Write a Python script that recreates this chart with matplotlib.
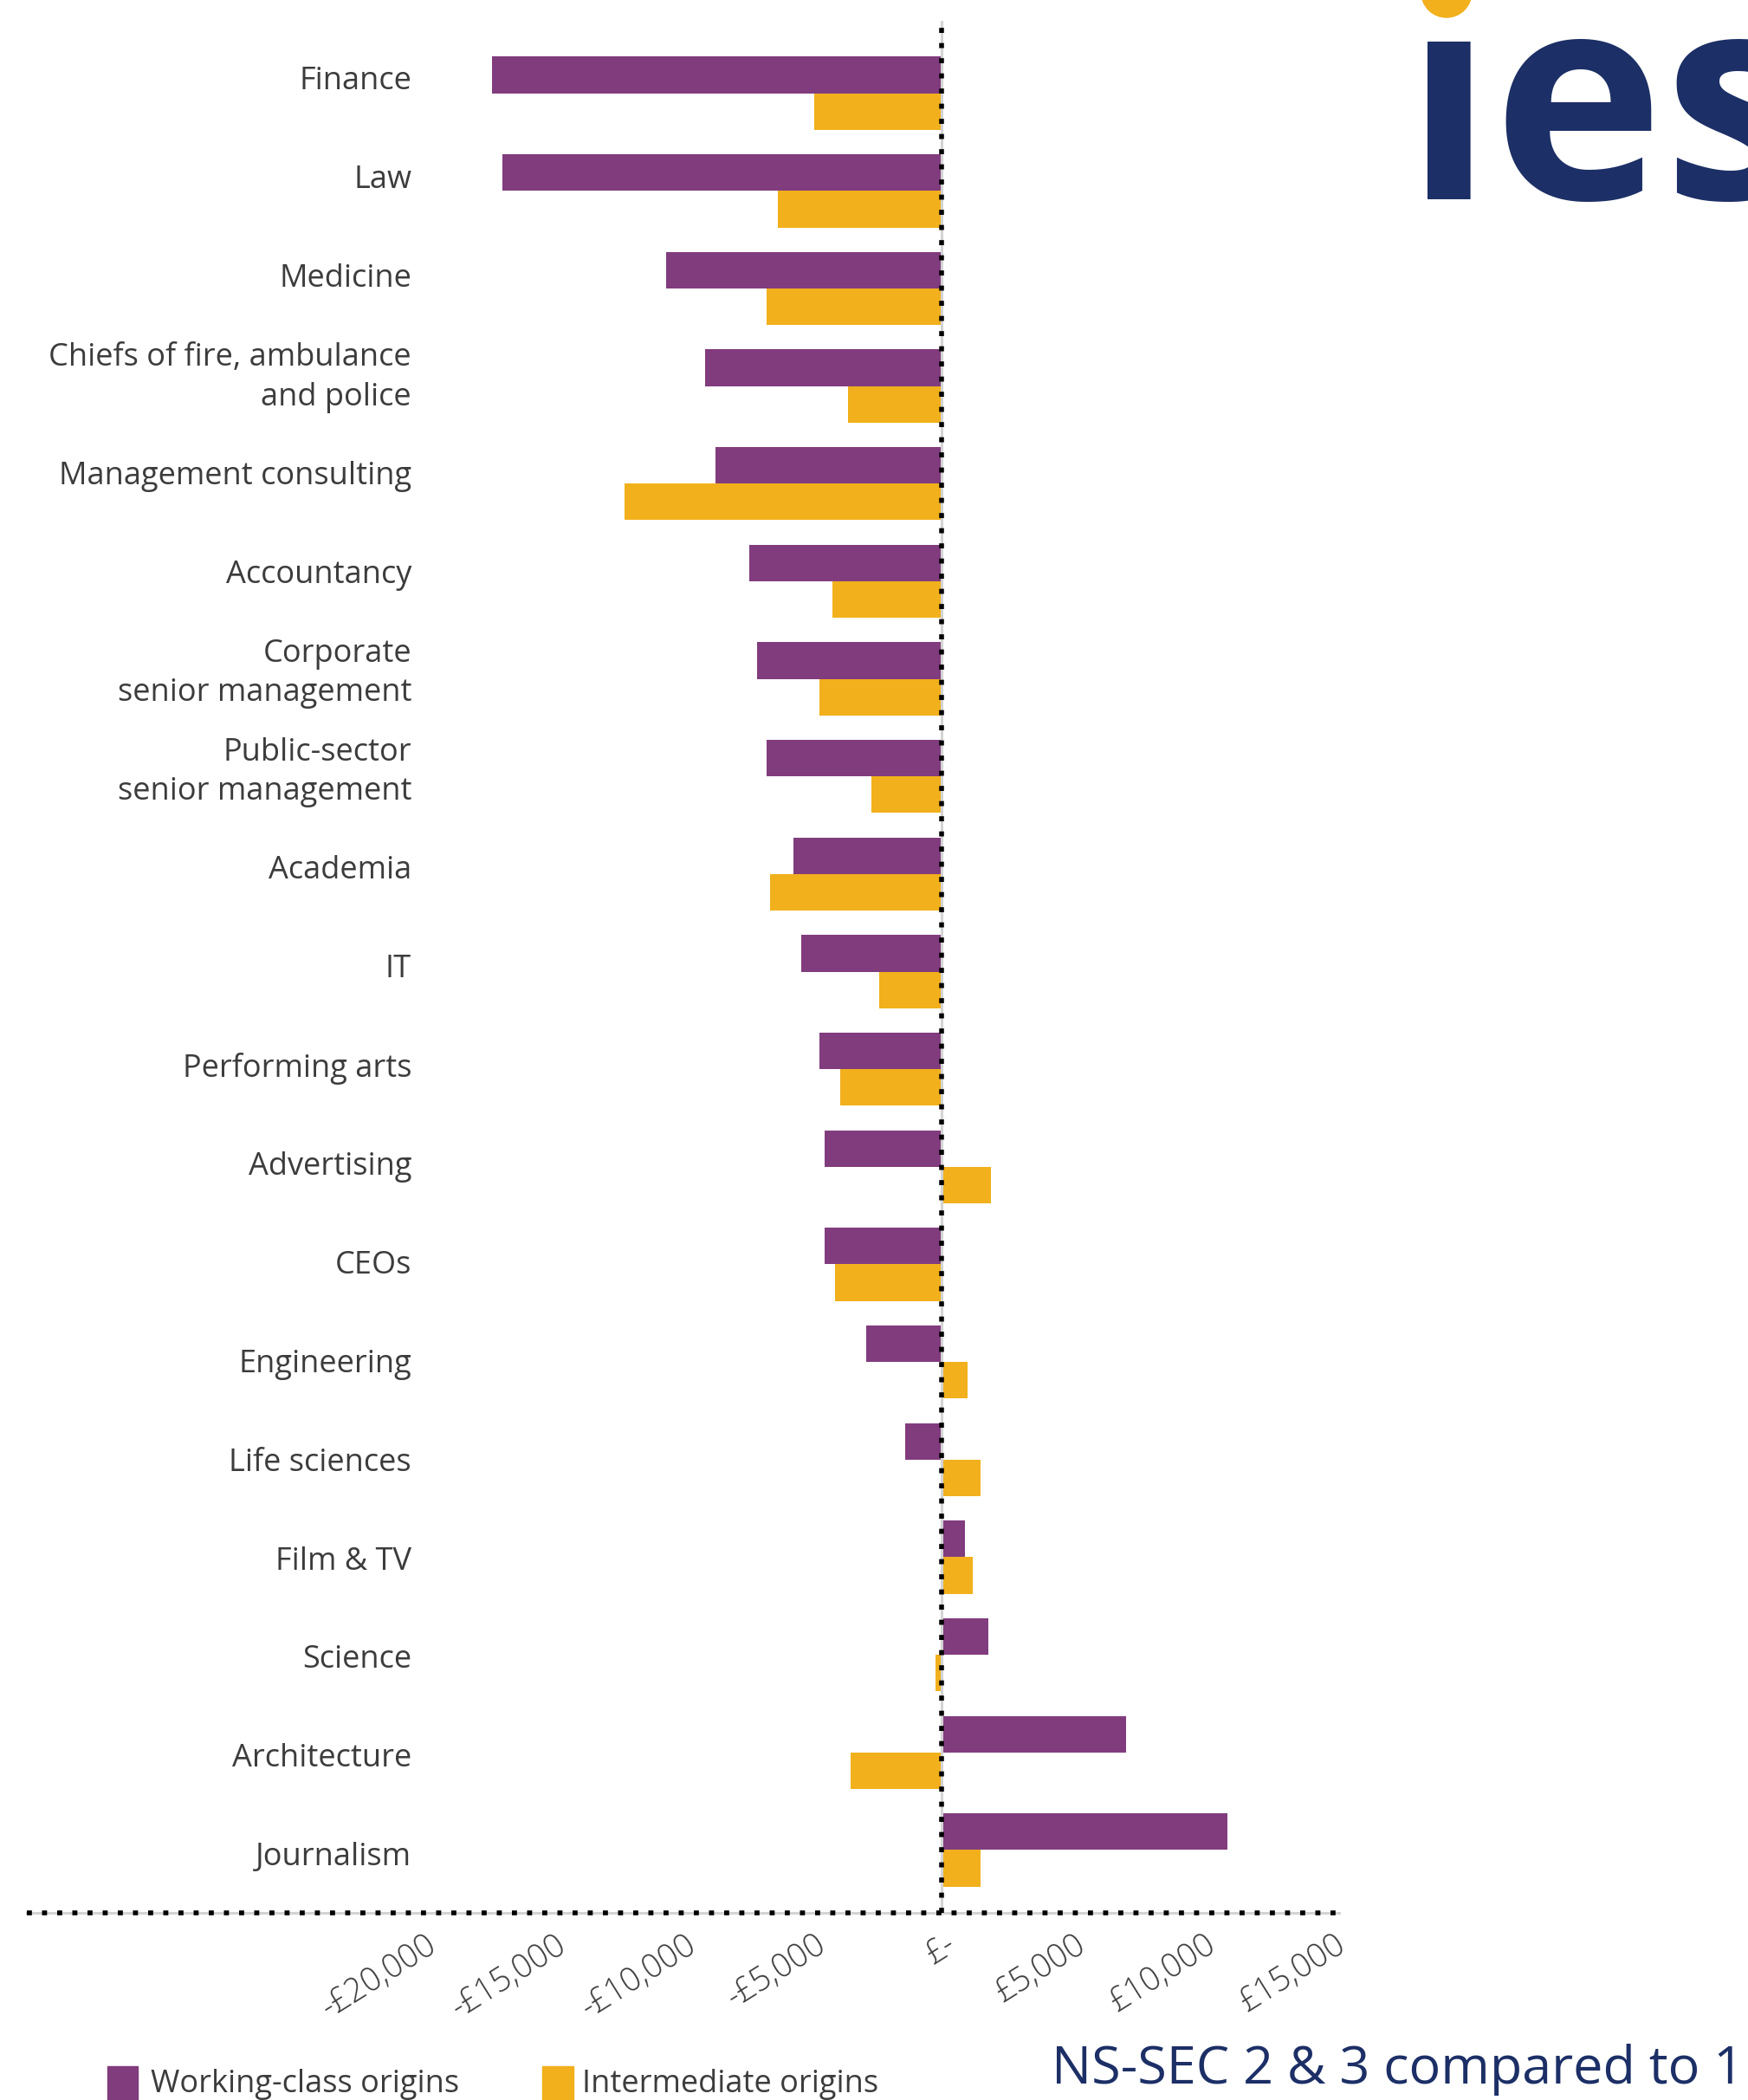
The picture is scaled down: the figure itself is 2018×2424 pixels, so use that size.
import numpy as np
import matplotlib
matplotlib.use("Agg")
import matplotlib.pyplot as plt
import matplotlib.transforms as mtransforms
from matplotlib.patches import Ellipse, Rectangle

categories = ["Finance", "Law", "Medicine", "Chiefs of fire, ambulance\nand police",
              "Management consulting", "Accountancy", "Corporate\nsenior management",
              "Public-sector\nsenior management", "Academia", "IT", "Performing arts",
              "Advertising", "CEOs", "Engineering", "Life sciences", "Film & TV",
              "Science", "Architecture", "Journalism"]
working_class = [-17300, -16900, -10600, -9100, -8700, -7400, -7100, -6750, -5700, -5400,
                 -4700, -4500, -4500, -2900, -1400, 900, 1800, 7100, 11000]
intermediate = [-4900, -6300, -6750, -3600, -12200, -4200, -4700, -2700, -6600, -2400,
                -3900, 1900, -4100, 1000, 1500, 1200, -250, -3500, 1500]
tick_values = [-20000, -15000, -10000, -5000, 0, 5000, 10000, 15000]
tick_labels = ["-£20,000", "-£15,000", "-£10,000", "-£5,000", "£-", "£5,000", "£10,000", "£15,000"]

purple = "#813C7E"
orange = "#F1B01C"
navy = "#1C2F66"
grey_text = "#3C3C3C"
font = "Open Sans"

fig = plt.figure(figsize=(20.18, 24.24), dpi=100)
ax = fig.add_axes([0.0153, 0.0893, 0.7510, 0.9007])

y = np.arange(len(categories))
h = 0.375
ax.barh(y - h / 2, working_class, height=h, color=purple, zorder=2)
ax.barh(y + h / 2, intermediate, height=h, color=orange, zorder=2)

ax.set_xlim(-35200, 15300)
ax.set_ylim(18.64, -0.74)

dots = (0, (1.05, 2.1))
# zero line: grey with black dots on top
ax.axvline(0, color="#D3D3D3", lw=2.2, zorder=3)
ax.axvline(0, color="black", lw=4, ls=dots, zorder=4)
# bottom axis line, same style
ax.axhline(18.64, color="#D3D3D3", lw=2.2, zorder=3, clip_on=False)
ax.axhline(18.64, color="black", lw=4, ls=dots, zorder=4, clip_on=False)

for s in ax.spines.values():
    s.set_visible(False)

ax.set_yticks([])
ax.set_xticks(tick_values)
ax.set_xticklabels(tick_labels, rotation=32, ha="right", va="top",
                   rotation_mode="anchor", fontsize=27, color=grey_text, family=font,
                   fontweight="light")
ax.tick_params(axis="x", length=0, pad=13)
shift = mtransforms.ScaledTranslation(0.03, 0, fig.dpi_scale_trans)
for lab in ax.get_xticklabels():
    lab.set_transform(lab.get_transform() + shift)

for i, name in enumerate(categories):
    ax.text(-20400, i * 1.011 - 0.12, name, ha="right", va="center", fontsize=26,
            color=grey_text, family=font, linespacing=1.35)

# legend at the bottom
fig.patches.append(Rectangle((0.0613, -0.01), 0.0176, 0.026, transform=fig.transFigure,
                             color=purple))
fig.text(0.086, 0.0075, "Working-class origins", fontsize=26, color=grey_text,
         family=font, va="center", ha="left")
fig.patches.append(Rectangle((0.3103, -0.01), 0.0176, 0.026, transform=fig.transFigure,
                             color=orange))
fig.text(0.333, 0.0075, "Intermediate origins", fontsize=26, color=grey_text,
         family=font, va="center", ha="left")

# subtitle, reaching the right edge
fig.text(0.6015, 0.0145, "NS-SEC 2 & 3 compared to 1", fontsize=44, color=navy,
         family=font, va="center", ha="left")

# logo
fig.text(0.804, 0.905, "\u0131es", fontsize=240, color=navy, family=font,
         fontweight="bold", ha="left", va="baseline")
fig.patches.append(Ellipse((0.8275, 1.0037), 2 * 29 / 2018, 2 * 29 / 2424,
                           transform=fig.transFigure, color=orange))

fig.savefig("out.png", dpi=100)
